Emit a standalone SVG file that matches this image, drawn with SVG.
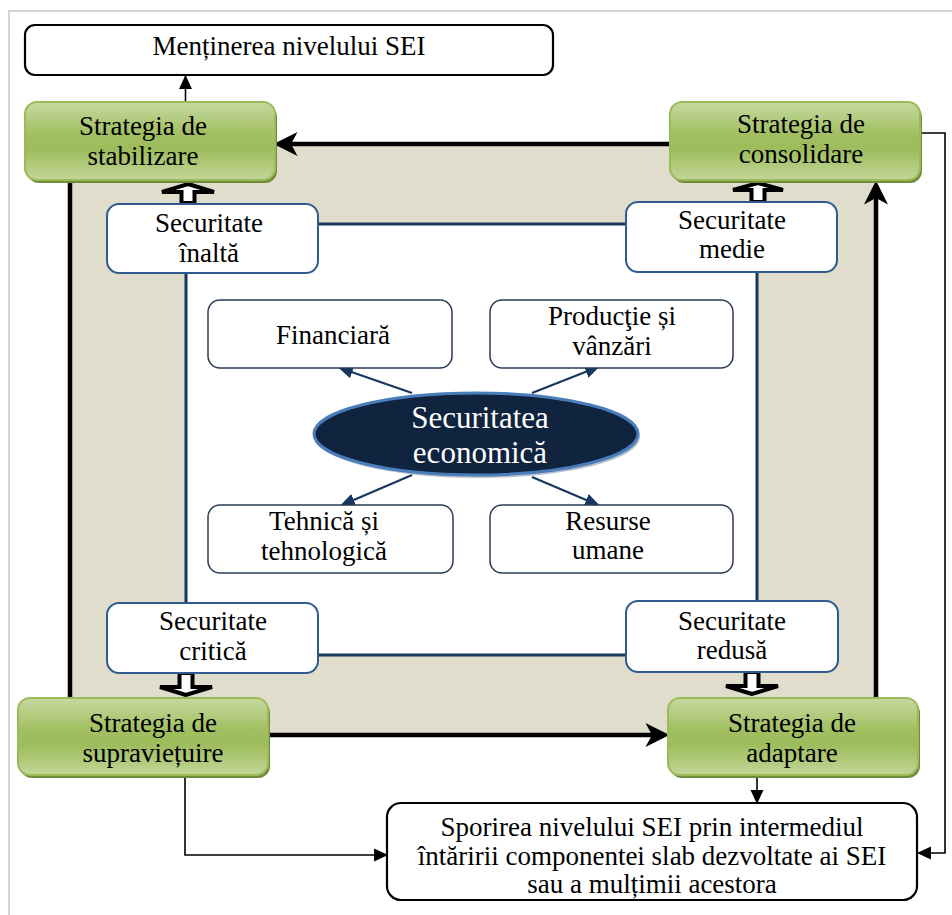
<svg xmlns="http://www.w3.org/2000/svg" width="952" height="915" viewBox="0 0 952 915">
<style>
text{font-family:"Liberation Serif","Times New Roman",serif;font-size:27px;fill:#000;text-anchor:middle}
.big{font-size:31px;fill:#fff}
.gbox{fill:url(#g);stroke:#9bbb59;stroke-width:2}
.gsh{fill:#6f8c38}
.sbox{fill:#fff;stroke:#2f5b8e;stroke-width:2}
.cbox{fill:#fff;stroke:#2a3b55;stroke-width:1.5}
.bbox{fill:#fff;stroke:#000;stroke-width:2.2}
.thick{fill:none;stroke:#000;stroke-width:4.5}
.thin{fill:none;stroke:#000;stroke-width:1.6}
.navy{fill:none;stroke:#17375e;stroke-width:2.2}
.block{fill:#fff;stroke:#000;stroke-width:4;stroke-linejoin:miter}
</style>
<defs>
<linearGradient id="g" x1="0" y1="0" x2="0" y2="1">
<stop offset="0" stop-color="#c6d9a1"/>
<stop offset="0.42" stop-color="#a1bf60"/>
<stop offset="0.6" stop-color="#9dbc5b"/>
<stop offset="1" stop-color="#c2d699"/>
</linearGradient>
<marker id="mThick" markerUnits="userSpaceOnUse" markerWidth="24" markerHeight="24" viewBox="0 0 22 22" refX="6" refY="11" orient="auto">
<path d="M0,0 L22,11 L0,22 L6,11 Z" fill="#000"/>
</marker>
<marker id="mThin" markerUnits="userSpaceOnUse" markerWidth="14" markerHeight="14" viewBox="0 0 13 12" refX="12" refY="6" orient="auto">
<path d="M0,0 L13,6 L0,12 Z" fill="#000"/>
</marker>
<marker id="mNavy" markerUnits="userSpaceOnUse" markerWidth="15" markerHeight="15" viewBox="0 0 14 12" refX="12" refY="6" orient="auto">
<path d="M0,0 L14,6 L0,12 Z" fill="#17375e"/>
</marker>
</defs>
<rect width="952" height="915" fill="#fff"/>
<path d="M9,915 V11 H952" fill="none" stroke="#d4d4d4" stroke-width="2"/>

<g id="band">
<rect x="70" y="144" width="806" height="591" fill="#e1ddcc"/>
<rect x="186" y="224" width="571" height="431" fill="#fff" stroke="#17375e" stroke-width="3"/>
</g>

<g id="connectors">
<path class="thick" d="M670,144 H291" marker-end="url(#mThick)"/>
<path class="thick" d="M70,182 V698"/>
<path class="thick" d="M268,735 H652" marker-end="url(#mThick)"/>
<path class="thick" d="M876,698 V198" marker-end="url(#mThick)"/>
<path class="thin" d="M185.5,102 V76" marker-end="url(#mThin)"/>
<path class="thin" d="M757,777 V803" marker-end="url(#mThin)"/>
<path class="thin" d="M185,777 V855 H387" marker-end="url(#mThin)"/>
<path class="thin" d="M920,133 H945 V853 H918" marker-end="url(#mThin)"/>
<path class="navy" d="M412,393 L340,368" marker-end="url(#mNavy)"/>
<path class="navy" d="M532,393 L598,367" marker-end="url(#mNavy)"/>
<path class="navy" d="M412,475 L342,505" marker-end="url(#mNavy)"/>
<path class="navy" d="M532,477 L598,505" marker-end="url(#mNavy)"/>
<polygon class="block" points="188,184 214,192 194.5,192 194.5,203 181.5,203 181.5,192 162,192"/>
<polygon class="block" points="758,183 783,190 764.5,190 764.5,202 751.5,202 751.5,190 733,190"/>
<polygon class="block" points="186,695 160,687 179.5,687 179.5,673 192.5,673 192.5,687 212,687"/>
<polygon class="block" points="752,694 726,686 745.5,686 745.5,672 758.5,672 758.5,686 778,686"/>
</g>

<g id="mentinerea">
<rect class="bbox" x="25" y="25" width="528" height="50" rx="10"/>
<text x="289" y="55">Menținerea nivelului SEI</text>
</g>

<g id="stabilizare">
<rect class="gsh" x="27" y="105" width="250" height="78" rx="12"/>
<rect class="gbox" x="25" y="102" width="250" height="78" rx="12"/>
<text x="143" y="135">Strategia de</text>
<text x="143" y="165">stabilizare</text>
</g>

<g id="consolidare">
<rect class="gsh" x="672" y="105" width="250" height="78" rx="12"/>
<rect class="gbox" x="670" y="102" width="250" height="78" rx="12"/>
<text x="801" y="133">Strategia de</text>
<text x="801" y="163">consolidare</text>
</g>

<g id="supravietuire">
<rect class="gsh" x="20" y="701" width="250" height="77" rx="12"/>
<rect class="gbox" x="18" y="698" width="250" height="77" rx="12"/>
<text x="153" y="732">Strategia de</text>
<text x="153" y="762">supraviețuire</text>
</g>

<g id="adaptare">
<rect class="gsh" x="670" y="701" width="250" height="77" rx="12"/>
<rect class="gbox" x="668" y="698" width="250" height="77" rx="12"/>
<text x="792" y="732">Strategia de</text>
<text x="792" y="762">adaptare</text>
</g>

<g id="inalta">
<rect class="sbox" x="107" y="204" width="211" height="69" rx="12"/>
<text x="209" y="232">Securitate</text>
<text x="209" y="262">înaltă</text>
</g>

<g id="medie">
<rect class="sbox" x="626" y="202" width="211" height="70" rx="12"/>
<text x="732" y="229">Securitate</text>
<text x="732" y="258">medie</text>
</g>

<g id="critica">
<rect class="sbox" x="107" y="603" width="211" height="70" rx="12"/>
<text x="213" y="630">Securitate</text>
<text x="213" y="660">critică</text>
</g>

<g id="redusa">
<rect class="sbox" x="626" y="601" width="212" height="71" rx="12"/>
<text x="732" y="630">Securitate</text>
<text x="732" y="659">redusă</text>
</g>

<g id="financiara">
<rect class="cbox" x="208" y="300" width="244" height="68" rx="12"/>
<text x="333" y="344">Financiară</text>
</g>

<g id="productie">
<rect class="cbox" x="490" y="300" width="243" height="68" rx="12"/>
<text x="612" y="325">Producţie și</text>
<text x="612" y="355">vânzări</text>
</g>

<g id="tehnica">
<rect class="cbox" x="208" y="505" width="245" height="68" rx="12"/>
<text x="324" y="530">Tehnică și</text>
<text x="324" y="560">tehnologică</text>
</g>

<g id="resurse">
<rect class="cbox" x="490" y="505" width="243" height="68" rx="12"/>
<text x="608" y="530">Resurse</text>
<text x="608" y="559">umane</text>
</g>

<g id="securitatea">
<ellipse cx="478" cy="437" rx="162" ry="41" fill="#8795a8" opacity="0.6"/>
<ellipse cx="476" cy="434" rx="162" ry="41" fill="#10233f" stroke="#4a7ebb" stroke-width="3"/>
<text class="big" x="480" y="428">Securitatea</text>
<text class="big" x="480" y="463">economică</text>
</g>

<g id="sporirea">
<rect class="bbox" x="387" y="803" width="530" height="97" rx="14"/>
<text x="652" y="836">Sporirea nivelului SEI prin intermediul</text>
<text x="652" y="865">întăririi componentei slab dezvoltate ai SEI</text>
<text x="652" y="893">sau a mulțimii acestora</text>
</g>
</svg>
